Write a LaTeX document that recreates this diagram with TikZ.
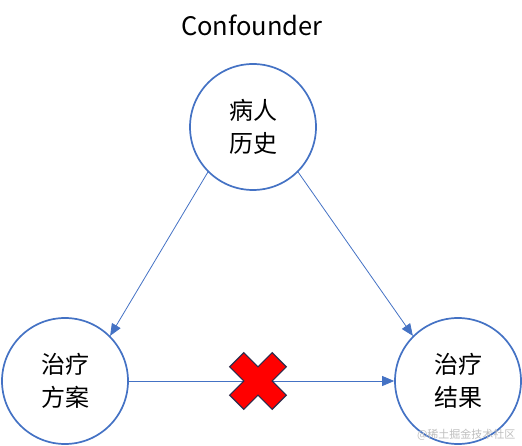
\documentclass[tikz,border=0pt]{standalone}
\usepackage{fontspec}
\setmainfont{Noto Sans CJK SC}
\usetikzlibrary{arrows.meta}
\definecolor{cBlue}{HTML}{4472C4}
\definecolor{cRed}{HTML}{FF0000}
\definecolor{cEdge}{HTML}{2F2B4A}

\begin{document}
\begin{tikzpicture}[x=1pt,y=-1pt]
    \pgfmathsetmacro{\r}{63}	%circle radius
	\pgfmathsetmacro{\a}{30}
	\pgfmathsetmacro{\b}{10}

    \useasboundingbox (0,0) rectangle (522,446);

    \tikzset{
        varnode/.style={circle, draw=cBlue, line width=1.7pt, fill=white, minimum size=2*\r pt, inner sep=0pt, align=center, font=\fontsize{24}{33}\selectfont},
        link/.style={draw=cBlue, line width=0.8pt, -{Triangle[length=12pt,width=10pt]}},
        cross/.pic={
            \draw[draw=cEdge, line width=1.2pt, fill=cRed, rotate=45] (\b,\a) -- (\b,\b) -- (\a,\b) -- (\a,-\b) -- (\b,-\b) -- (\b,-\a) -- (-\b,-\a) -- (-\b,-\b) -- (-\a,-\b) -- (-\a,\b) -- (-\b,\b) -- (-\b,\a) -- cycle;
        }
    }

    \node[anchor=base, font=\fontsize{25.5}{28}\selectfont] (title) at (252,36) {Confounder};

    \node[varnode] (history) at (253,127) {病人\\历史};
    \node[varnode] (plan) at (65,381) {治疗\\方案};
    \node[varnode] (outcome) at (458,381) {治疗\\结果};

    \draw[link] (history.south west) -- (plan.north east);
    \draw[link] (history.south east) -- (outcome.north west);
    \draw[link] (plan.east) -- (outcome.west);

    \draw (258,381) pic {cross};

    \node[anchor=east, text=black!25, font=\fontsize{11}{13}\selectfont] (mark) at (519,435) {@稀土掘金技术社区};
\end{tikzpicture}
\end{document}
